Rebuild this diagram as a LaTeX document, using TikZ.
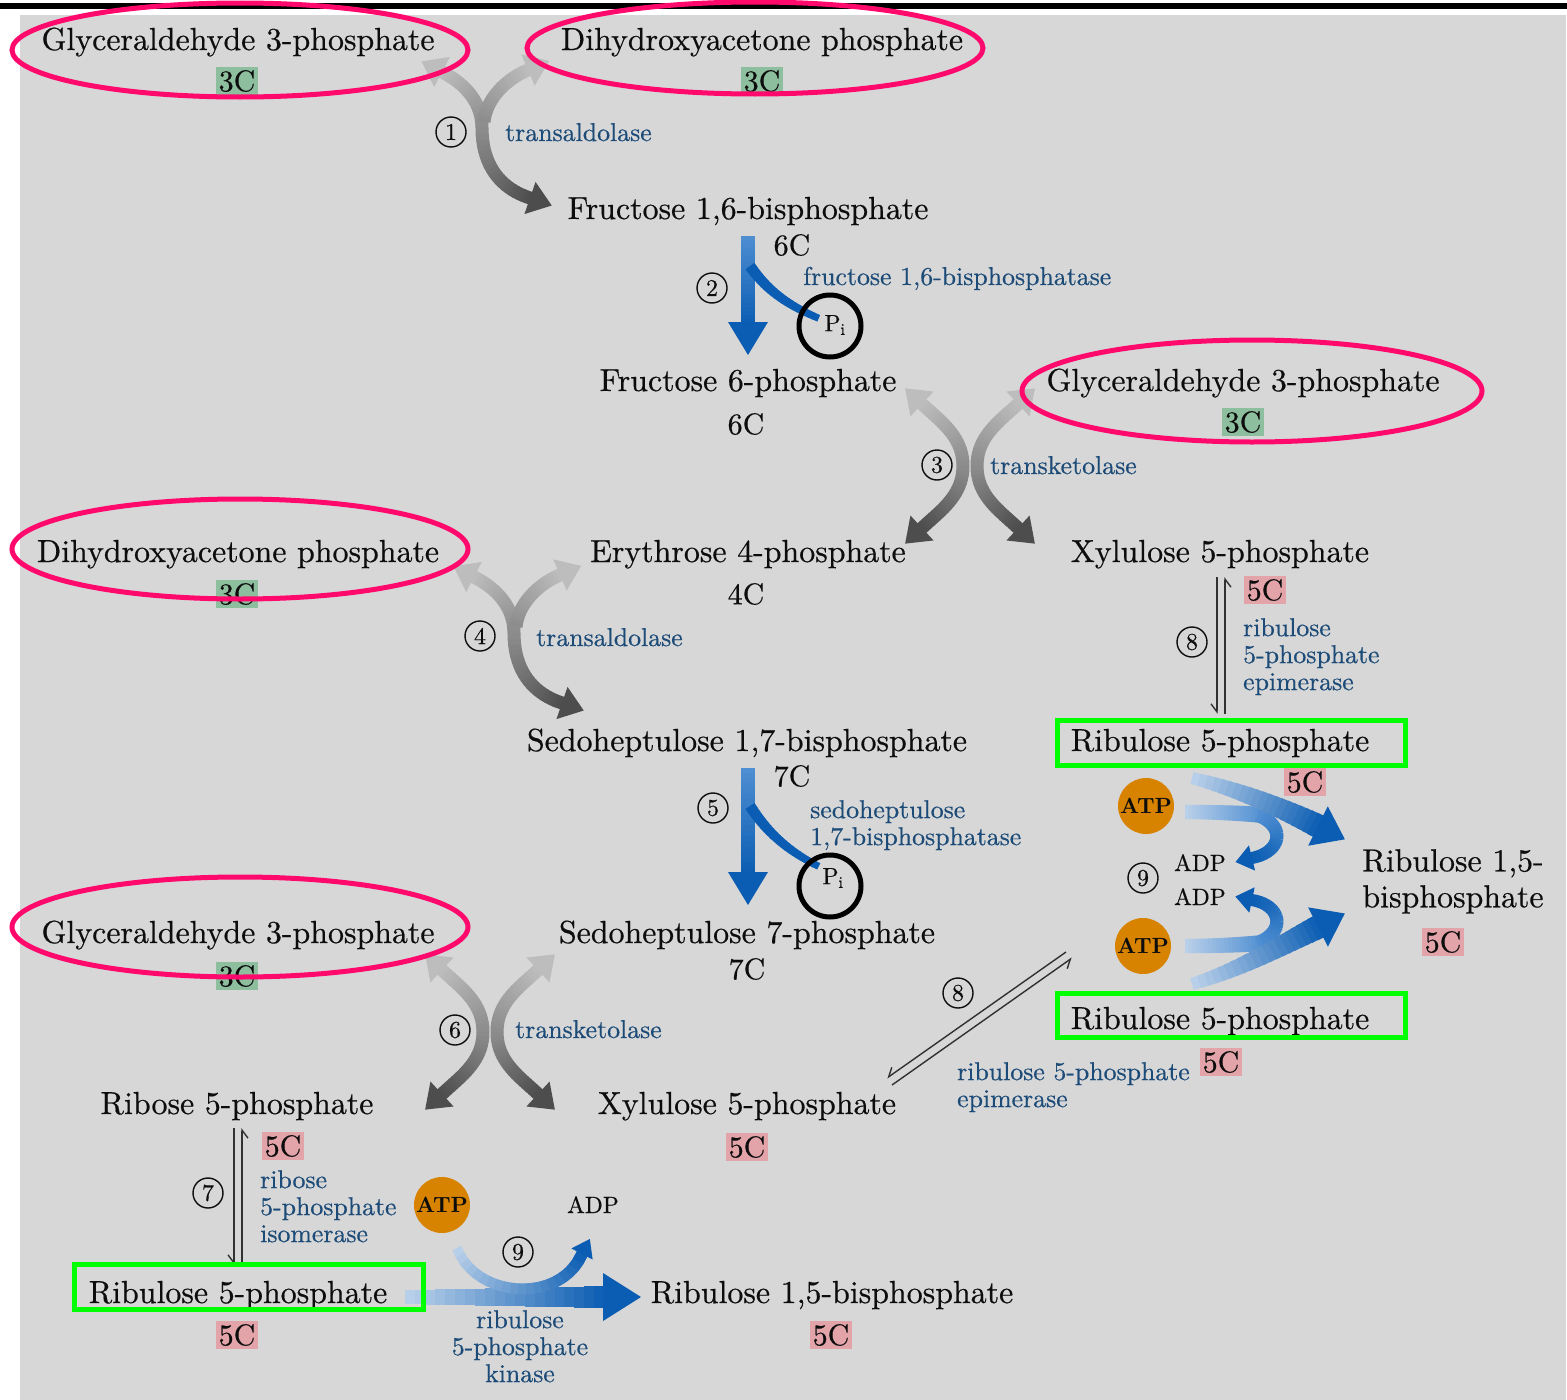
\documentclass[tikz,border=0pt]{standalone}
\usepackage{fontspec}
\setmainfont{lmroman10-regular.otf}[FakeBold=0.5]
\newfontfamily\atpfont{lmroman10-bold.otf}
\usetikzlibrary{calc,arrows.meta}
\definecolor{bgc}{HTML}{D7D7D7}
\definecolor{txt}{HTML}{0D0D0D}
\definecolor{hlred}{HTML}{FF0A6C}
\definecolor{hlgreen}{HTML}{00FF00}
\definecolor{enzc}{HTML}{1C4B78}
\definecolor{cgr}{HTML}{8DBE9E}
\definecolor{cpk}{HTML}{E2A3A9}
\definecolor{atpc}{HTML}{D88300}
\definecolor{gl}{HTML}{BDBDBD}
\definecolor{gm}{HTML}{8C8C8C}
\definecolor{gd}{HTML}{4D4D4D}
\definecolor{bl}{HTML}{BBD1EA}
\definecolor{bm}{HTML}{4F8FD2}
\definecolor{bd}{HTML}{0B5DB3}
% gradient stroke along a Bezier curve (20 pieces)
\newcommand\myline[8]{%
  \path #1 .. controls #2 and #3 .. #4
    coordinate[pos=0] (q0) coordinate[pos=0.05] (q1) coordinate[pos=0.1] (q2)
    coordinate[pos=0.15] (q3) coordinate[pos=0.2] (q4) coordinate[pos=0.25] (q5)
    coordinate[pos=0.3] (q6) coordinate[pos=0.35] (q7) coordinate[pos=0.4] (q8)
    coordinate[pos=0.45] (q9) coordinate[pos=0.5] (q10) coordinate[pos=0.55] (q11)
    coordinate[pos=0.6] (q12) coordinate[pos=0.65] (q13) coordinate[pos=0.7] (q14)
    coordinate[pos=0.75] (q15) coordinate[pos=0.8] (q16) coordinate[pos=0.85] (q17)
    coordinate[pos=0.9] (q18) coordinate[pos=0.95] (q19) coordinate[pos=1] (q20);
  \foreach \i in {0,...,19}{%
    \pgfmathtruncatemacro\j{\i+1}%
    \pgfmathtruncatemacro\pc{\i*5+2}%
    \pgfmathsetmacro\lw{#7+(#8-#7)*(\i+0.5)/20}%
    \draw[line width=\lw pt, color=#6!\pc!#5, shorten >=-0.8pt] (q\i) -- (q\j);
  }%
}
% arrow head at the end of the last \myline
\newcommand\myhead[3]{%
  \fill[#3] ($(q20)!#1!180:(q19)$) -- ($(q20)!#2!90:(q19)$) -- ($(q20)!#2!-90:(q19)$) -- cycle;}
% gray Y-shaped arrow
\newcommand\myY{%
  \myline{(482,128)}{(482,100)}{(462,82)}{(442,72)}{gm}{gl}{13}{13}\myhead{23pt}{17pt}{gl}
  \myline{(482,128)}{(482,170)}{(505,190)}{(530,198)}{gm}{gd}{13}{13}\myhead{23pt}{17pt}{gd}
  \myline{(484,122)}{(486,98)}{(508,78)}{(528,70)}{gm}{gl}{13}{13}\myhead{23pt}{17pt}{gl}
}
% gray X-shaped arrow
\newcommand\myX{%
  \myline{(-7,0)}{(-7,-30)}{(-30,-45)}{(-48,-62)}{gm}{gl}{13}{13}\myhead{23pt}{17pt}{gl}
  \myline{(7,0)}{(7,-30)}{(30,-45)}{(48,-62)}{gm}{gl}{13}{13}\myhead{23pt}{17pt}{gl}
  \myline{(-7,0)}{(-7,30)}{(-30,45)}{(-48,62)}{gm}{gd}{13}{13}\myhead{23pt}{17pt}{gd}
  \myline{(7,0)}{(7,30)}{(30,45)}{(48,62)}{gm}{gd}{13}{13}\myhead{23pt}{17pt}{gd}
}
\tikzset{
  lab/.style={font=\fontsize{31.9}{36}\selectfont, text=txt, inner sep=0pt},
  enz/.style={font=\fontsize{25.8}{27}\selectfont, text=enzc, inner sep=0pt},
  cnum/.style={font=\fontsize{30}{32}\selectfont, text=txt, inner sep=0pt},
  cg/.style={cnum, fill=cgr, inner sep=3pt},
  cp/.style={cnum, fill=cpk, inner sep=3pt},
  stepnum/.style={circle, draw=txt, line width=1.4pt, inner sep=0pt, minimum size=30pt,
    font=\fontsize{24}{26}\selectfont, text=txt},
  hl/.style={draw=hlred, line width=5pt},
  gb/.style={draw=hlgreen, line width=5pt},
  atp/.style={circle, fill=atpc, minimum size=56pt, inner sep=0pt,
    font=\atpfont\fontsize{22}{24}\selectfont, text=txt},
  pcirc/.style={draw=black, line width=5pt},
  eqarr/.style={line width=1.4pt, draw=txt!85, -{Straight Barb[right, length=8pt, width=12pt]}},
  smalltxt/.style={font=\fontsize{23.5}{26}\selectfont, text=txt, inner sep=0pt},
}
\begin{document}
\begin{tikzpicture}[x=1pt,y=-1pt]
\useasboundingbox (0,0) rectangle (1567,1400);
\fill[white] (0,0) rectangle (1567,1400);
\fill[black] (0,3) rectangle (1567,9);
\fill[bgc] (20,15) rectangle (1566,1400);

% ---- gray arrows
\begin{scope}\myY\end{scope}
\begin{scope}[shift={(32,505)}]\myY\end{scope}
\begin{scope}[shift={(970,466)}]\myX\end{scope}
\begin{scope}[shift={(490,1032)}]\myX\end{scope}

% ---- blue vertical arrows (2) and (5)
\myline{(748,236)}{(748,260)}{(748,300)}{(748,322)}{bm}{bd}{14}{14}\myhead{33pt}{20pt}{bd}
\myline{(750,266)}{(768,292)}{(790,306)}{(818,318)}{bd}{bd}{11}{7}
\myline{(748,768)}{(748,800)}{(748,840)}{(748,872)}{bm}{bd}{14}{14}\myhead{33pt}{20pt}{bd}
\myline{(750,806)}{(768,834)}{(790,852)}{(818,866)}{bd}{bd}{11}{7}

% ---- blue arrows (9), right
\myline{(1185,812)}{(1210,812)}{(1240,813)}{(1262,815)}{bl}{bm}{14}{16}
\myline{(1258,815)}{(1286,826)}{(1282,852)}{(1252,858)}{bm}{bd}{14}{12}\myhead{17pt}{13pt}{bd}
\myline{(1192,778)}{(1240,790)}{(1282,808)}{(1318,826)}{bl}{bd}{12}{24}\myhead{30pt}{22pt}{bd}
\myline{(1185,946)}{(1210,946)}{(1240,945)}{(1262,943)}{bl}{bm}{14}{16}
\myline{(1258,943)}{(1286,932)}{(1282,905)}{(1252,900)}{bm}{bd}{14}{12}\myhead{17pt}{13pt}{bd}
\myline{(1192,984)}{(1240,970)}{(1282,945)}{(1318,927)}{bl}{bd}{12}{24}\myhead{30pt}{22pt}{bd}

% ---- blue arrow (9), bottom
\myline{(405,1297)}{(470,1297)}{(540,1297)}{(603,1297)}{bl}{bd}{14}{22}\myhead{38pt}{24pt}{bd}
\myline{(457,1248)}{(475,1298)}{(560,1305)}{(582,1254)}{bl}{bd}{10}{12}\myhead{17pt}{12pt}{bd}

% ---- equilibrium arrows
\coordinate (u8a) at (1217,577); \coordinate (u8b) at (1217,714);
\coordinate (u8c) at (1225,714); \coordinate (u8d) at (1225,577);
\draw[eqarr] (u8a) -- (u8b);
\draw[eqarr] (u8c) -- (u8d);
\coordinate (u7a) at (234,1128); \coordinate (u7b) at (234,1265);
\coordinate (u7c) at (242,1265); \coordinate (u7d) at (242,1128);
\draw[eqarr] (u7a) -- (u7b);
\draw[eqarr] (u7c) -- (u7d);
\coordinate (d8a) at (1066,952); \coordinate (d8b) at (887,1078);
\coordinate (d8c) at (892,1085); \coordinate (d8d) at (1072,958);
\draw[eqarr] (d8a) -- (d8b);
\draw[eqarr] (d8c) -- (d8d);

% ---- texts
\node[lab, anchor=base] (g3p1) at (238,50) {Glyceraldehyde 3-phosphate};
\node[cg] (g3p1c) at (237,81) {3C};
\node[lab, anchor=base] (dhap1) at (762,50) {Dihydroxyacetone phosphate};
\node[cg] (dhap1c) at (762,81) {3C};
\node[stepnum] (n1) at (451,132) {1};
\node[enz, anchor=base west] (e1) at (505,141) {transaldolase};
\node[lab, anchor=base] (fbp) at (748,219) {Fructose 1,6-bisphosphate};
\node[cnum] (fbpc) at (792,245) {6C};
\node[stepnum] (n2) at (712,288) {2};
\node[enz, anchor=base west] (e2) at (803,285) {fructose 1,6-bisphosphatase};
\node[smalltxt] (pi1) at (835,325) {P\textsubscript{i}};
\node[lab, anchor=base] (f6p) at (748,391) {Fructose 6-phosphate};
\node[cnum] (f6pc) at (746,424) {6C};
\node[lab, anchor=base] (g3p2) at (1243,391) {Glyceraldehyde 3-phosphate};
\node[cg] (g3p2c) at (1243,422) {3C};
\node[stepnum] (n3) at (937,465) {3};
\node[enz, anchor=base west] (e3) at (990,474) {transketolase};
\node[lab, anchor=base] (dhap2) at (238,562) {Dihydroxyacetone phosphate};
\node[cg] (dhap2c) at (237,594) {3C};
\node[lab, anchor=base] (e4p) at (748,562) {Erythrose 4-phosphate};
\node[cnum] (e4pc) at (746,594) {4C};
\node[lab, anchor=base] (xu1) at (1220,562) {Xylulose 5-phosphate};
\node[cp] (xu1c) at (1265,590) {5C};
\node[stepnum] (n4) at (480,636) {4};
\node[enz, anchor=base west] (e4) at (536,646) {transaldolase};
\node[stepnum] (n8a) at (1192,642) {8};
\node[enz, anchor=north west, align=left] (e8a) at (1243,618) {ribulose\\5-phosphate\\epimerase};
\node[lab, anchor=base] (sbp) at (747,751) {Sedoheptulose 1,7-bisphosphate};
\node[cnum] (sbpc) at (792,776) {7C};
\node[lab, anchor=base] (ru1) at (1220,751) {Ribulose 5-phosphate};
\node[cp] (ru1c) at (1305,782) {5C};
\node[stepnum] (n5) at (713,808) {5};
\node[enz, anchor=north west, align=left] (e5) at (810,800) {sedoheptulose\\1,7-bisphosphatase};
\node[smalltxt] (pi2) at (833,878) {P\textsubscript{i}};
\node[atp] (atp1) at (1146,806) {ATP};
\node[atp] (atp2) at (1143,946) {ATP};
\node[stepnum] (n9a) at (1143,878) {9};
\node[smalltxt, anchor=base] (adp1) at (1200,871) {ADP};
\node[smalltxt, anchor=base] (adp2) at (1200,905) {ADP};
\node[lab, anchor=north, align=center] (rubp1) at (1453,849) {Ribulose 1,5-\\bisphosphate};
\node[cp] (rubp1c) at (1443,942) {5C};
\node[lab, anchor=base] (g3p3) at (238,943) {Glyceraldehyde 3-phosphate};
\node[cg] (g3p3c) at (237,976) {3C};
\node[lab, anchor=base] (s7p) at (747,943) {Sedoheptulose 7-phosphate};
\node[cnum] (s7pc) at (747,969) {7C};
\node[stepnum] (n6) at (455,1030) {6};
\node[enz, anchor=base west] (e6) at (515,1038) {transketolase};
\node[stepnum] (n8b) at (958,993) {8};
\node[lab, anchor=base] (ru2) at (1220,1029) {Ribulose 5-phosphate};
\node[cp] (ru2c) at (1221,1062) {5C};
\node[enz, anchor=north west, align=left] (e8b) at (957,1062) {ribulose 5-phosphate\\epimerase};
\node[lab, anchor=base] (r5p) at (237,1114) {Ribose 5-phosphate};
\node[cp] (r5pc) at (283,1146) {5C};
\node[lab, anchor=base] (xu2) at (747,1114) {Xylulose 5-phosphate};
\node[cp] (xu2c) at (747,1147) {5C};
\node[stepnum] (n7) at (208,1193) {7};
\node[enz, anchor=north west, align=left] (e7) at (260,1170) {ribose\\5-phosphate\\isomerase};
\node[atp] (atp3) at (442,1205) {ATP};
\node[smalltxt, anchor=base] (adp3) at (593,1213) {ADP};
\node[stepnum] (n9b) at (518,1252) {9};
\node[lab, anchor=base] (ru3) at (238,1303) {Ribulose 5-phosphate};
\node[cp] (ru3c) at (237,1335) {5C};
\node[lab, anchor=base] (rubp2) at (832,1303) {Ribulose 1,5-bisphosphate};
\node[cp] (rubp2c) at (831,1335) {5C};
\node[enz, anchor=north, align=center] (e9) at (520,1310) {ribulose\\5-phosphate\\kinase};

% ---- highlights
\draw[hl] (240,50) ellipse [x radius=228, y radius=47];
\draw[hl] (755,48) ellipse [x radius=228, y radius=46];
\draw[hl] (1252,391) ellipse [x radius=230, y radius=51];
\draw[hl] (240,549) ellipse [x radius=228, y radius=50];
\draw[hl] (240,927) ellipse [x radius=228, y radius=50];
\draw[gb] (1057,720) rectangle (1405,765);
\draw[gb] (1057,993) rectangle (1405,1037);
\draw[gb] (74,1264) rectangle (423,1309);
\draw[pcirc] (830,326) circle [radius=31];
\draw[pcirc] (830,886) circle [radius=31];
\end{tikzpicture}
\end{document}
